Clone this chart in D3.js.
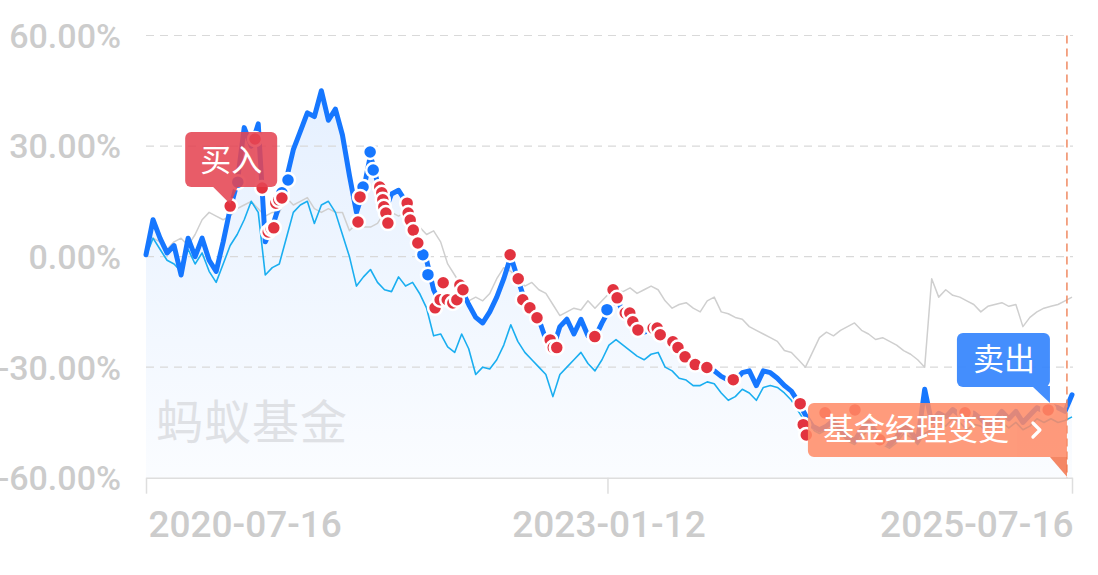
<!DOCTYPE html>
<html>
<head>
<meta charset="utf-8">
<script src="https://cdn.jsdelivr.net/npm/d3@7"></script>
<style>
html,body{margin:0;padding:0;background:#fff;}
svg{display:block;}
</style>
</head>
<body>
<svg id="chart" width="1098" height="575"></svg>
<script>
// ---------- DATA ----------
const startDateStr = "2020-07-16";
const endDateStr = "2025-07-16";
const xTickLabels = ["2020-07-16", "2023-01-12", "2025-07-16"];
const yTickValues = [60, 30, 0, -30, -60];

// fund cumulative return (%), evenly spaced samples from start to end
const fundValues = [0.5,10,5,1,3,-5,5,0,5,-1,-4,4,13,20,35,30,36,4,8,14,21,29,34,39,38,45,37,40,33,22,
  12,18,27.5,20,12,17,18,15,10,4,-1,-9,-13,-12,-12,-9,-13,-16.5,-18,-15,-11,-6,0,-6,-12,-14,-17,-22.5,-25,-19,
  -17,-21,-17,-21.5,-22,-18,-14.5,-11,-15,-17.5,-20,-20.5,-20,-20.5,-22,-23.5,-25.5,-27.5,-29,-30,-30.5,-31,-32.5,-33.5,-33.5,-31.5,-31,-35,-31,-31.5,
  -33,-35,-36.5,-39.5,-43,-46,-47,-46,-44.5,-47,-49,-50,-47,-45,-47.5,-50,-51,-49,-46,-47.5,-50,-36,-45,-42.5,-43.5,-41.5,-43,-44.5,-42.5,-44,
  -46,-44.5,-42,-44,-42,-45,-43,-41,-42,-40.5,-41,-42,-37.5];

// performance benchmark (%)
const benchValues = [0,5,2,-1,-2,-4,2,-2,1,-4,-7,-2,3,6,10,15,12,-5,-3,-2,5,12,14,15,9,14,15,12,6,0,
  -8,-5.5,-3.5,-7,-9,-9.5,-5.5,-8,-7,-10,-14,-21.5,-21,-24.5,-26,-21,-25,-32,-30,-30.5,-28,-24,-18.5,-23,-26,-28,-30,-32,-38,-32,
  -30,-28,-26,-29,-31,-28,-24,-22.5,-24,-25.5,-27,-28,-26.5,-26,-30,-31,-33,-33.5,-35,-35,-34,-34.5,-37,-39,-38,-36,-37,-39,-35.5,-35,
  -35.5,-37,-39,-42,-45,-47,-48,-47,-46.5,-48,-50,-51,-49,-47,-48.5,-51,-52,-50.5,-48,-49,-51,-48,-47,-45,-46,-44,-45,-47,-45.5,-46,
  -48,-47,-45,-46.5,-45,-47,-46,-44,-45,-44,-45,-44.5,-43.5];

// reference index (%)
const indexValues = [2,5,4,2,4,5,3,6,10,12,11,10,11,13,14,15,13,11,12,12,16,14,15,16,13,12,13,12,12,7,
  9,8,8,9,12,12,11,12,10,8,6,7,4,-2,-5,-8,-12,-11,-12,-10,-6,-3,-4,-6,-8,-7,-9,-10,-13,-16,
  -15,-14,-14.5,-12,-14,-12,-10,-9,-9.5,-8.5,-10,-9,-8,-9,-12,-14,-13,-12.5,-14,-15,-12,-11,-15,-15.5,-16.5,-17,-19,-20,-21,-22,
  -23,-25.5,-26,-28,-30,-26,-22,-20.5,-21.5,-20,-19,-18,-20,-21,-22.5,-22,-23,-24,-25.5,-26.5,-28,-30,-6,-11,-9,-10.5,-11,-12,-13,-15,
  -13.5,-13,-12.5,-13.5,-13,-19,-16.5,-15,-14,-13.5,-13,-12,-11];

// trade markers: days since start, value (%)
const buyDays = [166,215,229,241,247,252,256,262,268,418,422,461,465,467,469,473,477,515,517,521,527,536,570,580,586,594,605,613,619,625,
  718,734,743,757,771,797,803,810,885,921,929,945,954,960,970,1000,1008,1014,1039,1049,1063,1083,1106,1158,1290,1296,1302,1339,1398,1447,1615,1779];
const buyValues = [13.7,31.9,18.6,6.7,7.5,7.8,14.5,15.4,15.9,9.4,16.2,18.9,17.3,15.4,13.5,11.8,9.1,14.5,11.8,9.9,7.2,3.7,-13.9,-11.7,-7.1,-11.7,-12.6,-11.7,-7.7,-9.0,
  0.5,-6.0,-11.7,-13.9,-16.6,-22.6,-24.7,-24.7,-21.7,-9.0,-11.2,-15.3,-15.3,-17.7,-19.9,-19.4,-19.4,-21.2,-23.1,-24.7,-27.2,-29.3,-30.1,-33.4,-39.9,-45.6,-48.4,-42.4,-41.6,-49.7,-42.4,-41.6];
const sellDays = [181,268,280,428,442,448,546,556,909];
const sellValues = [20.2,17.3,20.8,18.9,28.4,23.5,0.5,-4.9,-14.4];

const managerChangeDateStr = "2025-07-06";
const buyLabel = "买入";
const sellLabel = "卖出";
const managerLabel = "基金经理变更";
const watermark = "蚂蚁基金";

// ---------- CHART ----------
const parse = d3.timeParse("%Y-%m-%d");
const startD = parse(startDateStr), endD = parse(endDateStr);
const svg = d3.select("#chart");
const pL = 146, pR = 1072, pT = 35.5, pB = 477.7;

const x = d3.scaleTime().domain([startD, endD]).range([pL, pR]);
const y = d3.scaleLinear().domain([-60, 60]).range([pB, pT]);

const nPts = fundValues.length;
const stepMs = (endD - startD) / (nPts - 1);
const sampleDate = i => new Date(startD.getTime() + i * stepMs);
const toSeries = arr => arr.map((v, i) => ({d: sampleDate(i), v}));
const fund = toSeries(fundValues), bench = toSeries(benchValues), indexSeries = toSeries(indexValues);
const dayDate = d => d3.timeDay.offset(startD, d);

const defs = svg.append("defs");
const grad = defs.append("linearGradient").attr("id", "areaGrad").attr("x1", 0).attr("y1", 0).attr("x2", 0).attr("y2", 1);
grad.append("stop").attr("offset", "0%").attr("stop-color", "#1677ff").attr("stop-opacity", 0.11);
grad.append("stop").attr("offset", "100%").attr("stop-color", "#1677ff").attr("stop-opacity", 0.02);

// area under fund line
const area = d3.area().x(d => x(d.d)).y0(pB).y1(d => y(d.v));
svg.append("path").datum(fund).attr("d", area).attr("fill", "url(#areaGrad)");

// gridlines
svg.append("g").selectAll("line").data(yTickValues.filter(v => v !== -60)).join("line")
  .attr("x1", pL).attr("x2", pR + 1).attr("y1", d => y(d)).attr("y2", d => y(d))
  .attr("stroke", "#d9d9d9").attr("stroke-width", 1.2).attr("stroke-dasharray", "8,6");

// y axis labels
const yAxis = svg.append("g").attr("transform", `translate(${pL},0)`)
  .call(d3.axisLeft(y).tickValues(yTickValues).tickSize(0).tickPadding(25).tickFormat(d => d.toFixed(2) + "%"));
yAxis.select(".domain").remove();
yAxis.selectAll("text").attr("fill", "#cccccc").attr("font-family", "Roboto, 'DejaVu Sans', sans-serif")
  .attr("font-size", 34).attr("font-weight", 500).attr("dy", "0.35em");

// x axis
const xDates = xTickLabels.map(parse);
const xAxis = svg.append("g").attr("transform", `translate(0,${pB})`)
  .call(d3.axisBottom(x).tickValues(xDates).tickSize(16).tickSizeOuter(0).tickFormat((d, i) => xTickLabels[i]));
xAxis.select(".domain").attr("stroke", "#dedede").attr("stroke-width", 1.5);
xAxis.selectAll(".tick line").attr("stroke", "#dedede").attr("stroke-width", 1.5);
xAxis.selectAll("text").attr("fill", "#cccccc").attr("font-family", "Roboto, 'DejaVu Sans', sans-serif")
  .attr("font-size", 37).attr("font-weight", 500).attr("y", 59).attr("dy", 0)
  .attr("text-anchor", (d, i) => i === 0 ? "start" : (i === xTickLabels.length - 1 ? "end" : "middle"))
  .attr("dx", (d, i) => i === 0 ? 2 : 1);

// watermark
svg.append("text").attr("x", x(startD) + 10).attr("y", 439).text(watermark)
  .attr("font-family", "'Noto Sans CJK SC', sans-serif").attr("font-size", 47)
  .attr("fill", "#dfe1e5").attr("letter-spacing", 1);

// lines
const line = d3.line().x(d => x(d.d)).y(d => y(d.v));
svg.append("path").datum(indexSeries).attr("d", line).attr("fill", "none")
  .attr("stroke", "#cfcfcf").attr("stroke-width", 1.5).attr("stroke-linejoin", "round");
svg.append("path").datum(bench).attr("d", line).attr("fill", "none")
  .attr("stroke", "#1aaef0").attr("stroke-width", 1.6).attr("stroke-linejoin", "round");
svg.append("path").datum(fund).attr("d", line).attr("fill", "none")
  .attr("stroke", "#1677ff").attr("stroke-width", 5).attr("stroke-linejoin", "round").attr("stroke-linecap", "round");

// markers
svg.append("g").selectAll("circle").data(sellDays.map((d, i) => ({d: dayDate(d), v: sellValues[i]}))).join("circle")
  .attr("cx", d => x(d.d)).attr("cy", d => y(d.v)).attr("r", 7)
  .attr("fill", "#1677ff").attr("stroke", "#fff").attr("stroke-width", 2.5);
svg.append("g").selectAll("circle").data(buyDays.map((d, i) => ({d: dayDate(d), v: buyValues[i]}))).join("circle")
  .attr("cx", d => x(d.d)).attr("cy", d => y(d.v)).attr("r", 7)
  .attr("fill", "#e2333f").attr("stroke", "#fff").attr("stroke-width", 2.5);

// manager change vertical line
const mx = x(parse(managerChangeDateStr));
svg.append("line").attr("x1", mx).attr("x2", mx).attr("y1", pT).attr("y2", pB)
  .attr("stroke", "#f08a62").attr("stroke-width", 1.5).attr("stroke-dasharray", "8,5");

// buy label (points at first buy marker)
const b0x = x(dayDate(buyDays[0])), b0y = y(buyValues[0]);
const bl = svg.append("g").attr("opacity", 0.88);
bl.append("rect").attr("x", b0x - 45).attr("y", b0y - 74).attr("width", 92).attr("height", 55).attr("rx", 6).attr("fill", "#e54654");
bl.append("path").attr("d", `M${b0x - 18},${b0y - 20} L${b0x + 8},${b0y - 20} L${b0x},${b0y - 2} Z`).attr("fill", "#e54654");
svg.append("text").attr("x", b0x + 1).attr("y", b0y - 46).attr("text-anchor", "middle").attr("dy", "0.36em")
  .attr("font-family", "'Noto Sans CJK SC', sans-serif").attr("font-size", 31).attr("fill", "#fff").text(buyLabel);

// manager change banner
const bg = svg.append("g").attr("opacity", 0.86);
bg.append("path").attr("d", `M${mx - 259},409 a6,6 0 0 1 6,-6 L${mx},403 L${mx},457 L${mx - 253},457 a6,6 0 0 1 -6,-6 Z`).attr("fill", "#ff8a66");
bg.append("path").attr("d", `M${mx - 17},457 L${mx},457 L${mx},${pB - 1} Z`).attr("fill", "#f4744c");
svg.append("text").attr("x", mx - 244).attr("y", 440)
  .attr("font-family", "'Noto Sans CJK SC', sans-serif").attr("font-size", 31).attr("fill", "#fff")
  .text(managerLabel);
svg.append("path").attr("d", `M${mx - 34},423 L${mx - 27},430 L${mx - 34},437`)
  .attr("fill", "none").attr("stroke", "#fff").attr("stroke-width", 3.2).attr("stroke-linecap", "round").attr("stroke-linejoin", "round");

// sell label
const sl = svg.append("g").attr("opacity", 0.95);
sl.append("rect").attr("x", mx - 110).attr("y", 333).attr("width", 93).attr("height", 54).attr("rx", 6).attr("fill", "#3a88fd");
sl.append("path").attr("d", `M${mx - 35},386 L${mx - 17},386 L${mx - 17},403 Z`).attr("fill", "#3a88fd");
svg.append("text").attr("x", mx - 63).attr("y", 359).attr("text-anchor", "middle").attr("dy", "0.36em")
  .attr("font-family", "'Noto Sans CJK SC', sans-serif").attr("font-size", 31).attr("fill", "#fff").text(sellLabel);
</script>
</body>
</html>
